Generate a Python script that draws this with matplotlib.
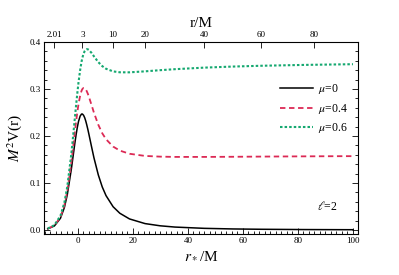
import matplotlib
matplotlib.use('Agg')
import matplotlib.pyplot as plt
from matplotlib.ticker import MultipleLocator

plt.rcParams['font.family'] = 'Liberation Serif'
plt.rcParams['mathtext.fontset'] = 'stix'

# tortoise coordinate r_*/M (sampled along the curves)
rstar = [-11.0, -8.59, -6.37, -4.95, -3.89, -2.41, -1.74, -1.14, -0.70, -0.27,
         0.19, 0.79, 1.30, 1.61, 2.04, 2.44, 2.81, 3.15, 3.59, 4.0,
         4.95, 5.81, 7.39, 8.83, 10.2, 12.77, 15.22, 18.74, 24.39, 29.89,
         35.28, 45.89, 56.36, 66.74, 82.2, 97.57, 100.0]

v_mu0 = [0.0026, 0.0086, 0.0251, 0.0479, 0.0751, 0.1298, 0.1588, 0.1848, 0.2023, 0.2176,
         0.2311, 0.2426, 0.2469, 0.2469, 0.2441, 0.2390, 0.2323, 0.2248, 0.2141, 0.2031,
         0.1768, 0.1536, 0.1173, 0.0916, 0.0732, 0.0496, 0.0357, 0.0236, 0.0137, 0.0090,
         0.0063, 0.0036, 0.0023, 0.0016, 0.0010, 0.0007, 0.0007]

v_mu04 = [0.0029, 0.0094, 0.0274, 0.0525, 0.0827, 0.1443, 0.1779, 0.2086, 0.2301, 0.2496,
          0.2680, 0.2863, 0.2965, 0.3002, 0.3025, 0.3020, 0.2996, 0.2959, 0.2899, 0.2831,
          0.2657, 0.2496, 0.2240, 0.2059, 0.1932, 0.1776, 0.1690, 0.1623, 0.1577, 0.1562,
          0.1556, 0.1556, 0.1559, 0.1563, 0.1568, 0.1572, 0.1572]

v_mu06 = [0.0032, 0.0104, 0.0304, 0.0583, 0.0922, 0.1625, 0.2017, 0.2384, 0.2648, 0.2896,
          0.3142, 0.3408, 0.3586, 0.3669, 0.3756, 0.3808, 0.3836, 0.3848, 0.3846, 0.3831,
          0.3768, 0.3696, 0.3573, 0.3488, 0.3432, 0.3376, 0.3357, 0.3356, 0.3377, 0.3402,
          0.3423, 0.3456, 0.3479, 0.3496, 0.3514, 0.3527, 0.3529]

labels = [r'$\mu$=0', r'$\mu$=0.4', r'$\mu$=0.6']

# top axis: r/M labels and where they sit in r_*/M
top_labels = ['2.01', '3', '10', '20', '40', '60', '80']
top_pos = [-8.59, 1.61, 12.77, 24.39, 45.89, 66.74, 85.9]

fig = plt.figure(figsize=(3.99, 2.75), dpi=100)
ax = fig.add_axes([0.110, 0.149, 0.787, 0.698])

ax.plot(rstar, v_mu0, color='black', lw=1.1, label=labels[0])
ax.plot(rstar, v_mu04, color='#dc2a55', lw=1.3, dashes=(3.0, 2.0), label=labels[1])
ax.plot(rstar, v_mu06, color='#15a870', lw=1.5, dashes=(1.2, 1.0), label=labels[2])

ax.set_xlim(-12.4, 101.8)
ax.set_ylim(-0.0085, 0.4)

ax.xaxis.set_major_locator(MultipleLocator(20))
ax.xaxis.set_minor_locator(MultipleLocator(2))
ax.yaxis.set_major_locator(MultipleLocator(0.1))
ax.yaxis.set_minor_locator(MultipleLocator(0.02))
ax.yaxis.set_major_formatter(plt.FormatStrFormatter('%.1f'))
ax.tick_params(which='both', direction='in', top=False, right=True, labelsize=6.5, pad=2, width=0.6)
ax.tick_params(which='major', length=4)
ax.tick_params(which='minor', length=2.3)
for s in ax.spines.values():
    s.set_linewidth(0.7)

ax.set_xlabel(r'$r_*$/M', fontsize=11, labelpad=3)
ax.set_ylabel(r'$M^2$V(r)', fontsize=11, labelpad=4)

ax.text(90.5, 0.051, r'$\ell$=2', fontsize=8.5, ha='center', va='center')

leg = ax.legend(loc='upper right', bbox_to_anchor=(1.0, 0.845), frameon=False,
                fontsize=8.5, handlelength=2.8, handletextpad=0.4, labelspacing=0.45)

top = ax.twiny()
top.set_xlim(ax.get_xlim())
top.set_xticks(top_pos)
top.set_xticklabels(top_labels)
top.tick_params(direction='in', length=4, width=0.6, labelsize=6.5, pad=2)
top.set_xlabel('r/M', fontsize=11, labelpad=3)

fig.savefig('out.png', dpi=100)
